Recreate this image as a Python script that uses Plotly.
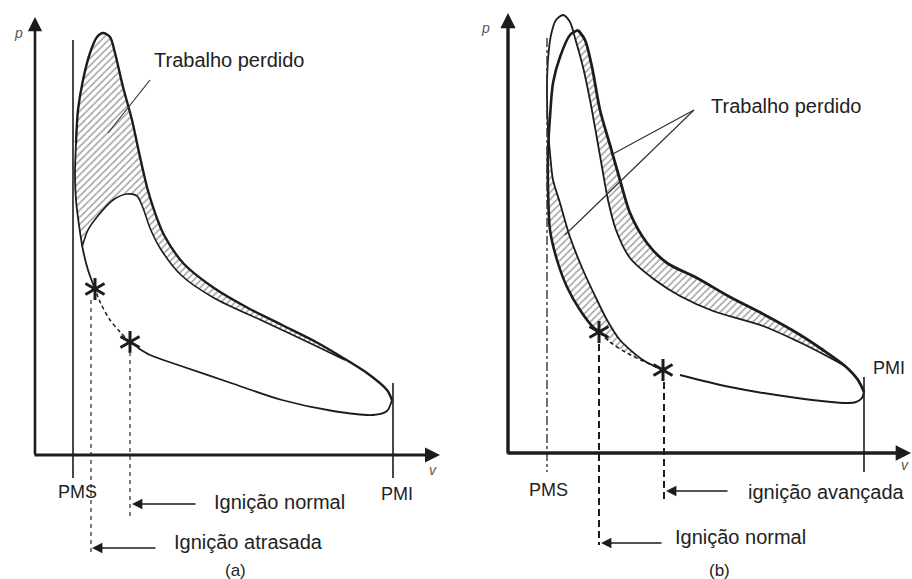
import math
import plotly.graph_objects as go

# ---------------- Panel (a): ignição atrasada (pixel-space drawing coordinates) -------------
a_comp_x = [392, 387, 373, 333, 282, 231, 181, 150, 138]
a_comp_y = [400, 411, 415, 411, 400, 383, 366, 355, 348]
a_between_x = [130, 120, 110, 101, 95]
a_between_y = [342, 332, 320, 304, 289]
a_rise_x = [95, 88, 83, 79, 76, 75, 76]
a_rise_y = [289, 270, 250, 225, 200, 175, 143]
a_peak_x = [76, 78, 83, 90, 97, 103, 110, 115, 123, 132, 140, 147, 153, 164, 184, 214, 248, 282, 316, 340, 367, 387, 392]
a_peak_y = [143, 110, 80, 53, 37, 33, 37, 53, 87, 120, 157, 187, 207, 235, 264, 288, 308, 325, 342, 356, 373, 390, 400]
a_hump_x = [82, 88, 97, 113, 127, 137, 143, 150, 160, 181, 214, 265, 316, 345]
a_hump_y = [247, 230, 217, 200, 194, 196, 208, 228, 248, 275, 298, 322, 346, 360]
a_stars_x = [95, 130]
a_stars_y = [289, 342]
a_ign_x = [91, 130]
a_ign_top = [300, 352]
a_ign_bottom = [552, 517]

# ---------------- Panel (b): ignição avançada -------------
b_comp_x = [864, 862, 856, 847, 797, 730, 680]
b_comp_y = [392, 398, 402, 403, 398, 387, 375]
b_between_x = [663, 643, 625, 610, 599]
b_between_y = [370, 361, 352, 342, 332]
b_rise_x = [599, 593, 580, 567, 557, 550, 548, 548, 550, 553, 560, 570, 578]
b_rise_y = [332, 327, 310, 287, 260, 230, 187, 150, 117, 83, 57, 35, 30]
b_fall_x = [578, 585, 592, 600, 610, 620, 630, 647, 667, 697, 730, 763, 797, 823, 845, 858, 864]
b_fall_y = [30, 40, 67, 110, 145, 180, 213, 243, 263, 278, 297, 314, 333, 350, 366, 380, 392]
b_adv_x = [663, 643, 620, 607, 597, 583, 570, 560, 553, 550, 548, 547, 548, 551, 556, 563, 570, 575, 583,
           590, 596, 602, 608, 616, 630, 655, 680, 713, 763, 797, 823, 845]
b_adv_y = [370, 360, 340, 320, 300, 270, 237, 203, 180, 153, 130, 90, 60, 35, 20, 15, 22, 38, 67,
           100, 133, 167, 200, 230, 258, 280, 296, 311, 326, 341, 354, 366]
b_stars_x = [599, 663]
b_stars_y = [332, 370]
b_ign_x = [599, 664]
b_ign_top = [344, 382]
b_ign_bottom = [545, 503]

INK = "#1c1c1c"
FONT = "Arial, Liberation Sans, sans-serif"

fig = go.Figure()


def line(xs, ys, width=2.0, dash="solid", color=INK, shape="spline"):
    fig.add_trace(go.Scatter(x=xs, y=ys, mode="lines",
                             line=dict(color=color, width=width, dash=dash, shape=shape, smoothing=0.8),
                             hoverinfo="skip"))


def hatch(xs, ys, shape="/"):
    fig.add_trace(go.Scatter(x=xs, y=ys, mode="lines", fill="toself",
                             line=dict(width=0, shape="spline", smoothing=0.8, color="rgba(0,0,0,0)"),
                             fillcolor="white",
                             fillpattern=dict(shape=shape, size=5, solidity=0.3, fgcolor="#444",
                                              bgcolor="white"),
                             hoverinfo="skip"))


def stars(xs, ys, r=11, width=3.0):
    sx, sy = [], []
    for cx, cy in zip(xs, ys):
        for ang in (90, 30, 150):
            dx = r * math.cos(math.radians(ang))
            dy = r * math.sin(math.radians(ang))
            sx += [cx - dx, cx + dx, None]
            sy += [cy + dy, cy - dy, None]
    fig.add_trace(go.Scatter(x=sx, y=sy, mode="lines", line=dict(color=INK, width=width),
                             hoverinfo="skip"))


# ---- hatched "trabalho perdido" regions ----
ha_x = a_peak_x[:20] + [a_hump_x[-1]] + a_hump_x[-2::-1] + a_rise_x[3:6]
ha_y = a_peak_y[:20] + [a_hump_y[-1]] + a_hump_y[-2::-1] + a_rise_y[3:6]
hatch(ha_x, ha_y)
hb1_x = b_adv_x[:10] + b_rise_x[7::-1] + b_between_x[::-1]
hb1_y = b_adv_y[:10] + b_rise_y[7::-1] + b_between_y[::-1]
hatch(hb1_x, hb1_y)
hb2_x = b_fall_x[:15] + b_adv_x[-2:16:-1]
hb2_y = b_fall_y[:15] + b_adv_y[-2:16:-1]
hatch(hb2_x, hb2_y)

# ---- panel (a) curves ----
line(a_peak_x, a_peak_y, 2.4)
line(a_hump_x, a_hump_y, 1.6)
line(a_comp_x, a_comp_y, 1.8)
line(a_between_x, a_between_y, 1.5, dash="4px,3px")
line(a_rise_x, a_rise_y, 1.8)
stars(a_stars_x, a_stars_y)

# ---- panel (b) curves ----
line(b_fall_x, b_fall_y, 2.8)
line(b_rise_x, b_rise_y, 2.6)
line(b_adv_x, b_adv_y, 1.8)
line(b_comp_x, b_comp_y, 2.0)
line(b_between_x, b_between_y, 1.6, dash="4px,3px")
stars(b_stars_x, b_stars_y)

# ---- reference lines ----
line([73, 73], [40, 478], 1.6, shape="linear")
line([393, 393], [383, 478], 1.6, shape="linear")
line([547, 547], [38, 472], 1.4, dash="dashdot", color="#333", shape="linear")
line([864, 864], [377, 472], 1.6, shape="linear")
for x, t, b in zip(a_ign_x, a_ign_top, a_ign_bottom):
    line([x, x], [t, b], 1.5, dash="4px,4px", color="#555", shape="linear")
for x, t, b in zip(b_ign_x, b_ign_top, b_ign_bottom):
    line([x, x], [t, b], 2.0, dash="7px,4px", color=INK, shape="linear")
line([150, 108], [80, 133], 1.2, color="#333", shape="linear")
line([694, 611], [110, 155], 1.2, color="#333", shape="linear")
line([694, 565], [110, 235], 1.2, color="#333", shape="linear")

annotations = []


def arrow(x0, y0, x1, y1, width=1.5, size=1.0, head=2):
    annotations.append(dict(x=x1, y=y1, ax=x0, ay=y0, xref="x", yref="y", axref="x", ayref="y",
                            text="", showarrow=True, arrowhead=head, arrowsize=size,
                            arrowwidth=width, arrowcolor=INK))


arrow(35, 456, 35, 17, width=2.6, size=1.1)
arrow(33, 455, 440, 455, width=3.0, size=1.0)
arrow(508, 455, 508, 13, width=3.4, size=0.9)
arrow(506, 453, 911, 453, width=3.4, size=0.9)
arrow(197, 504, 132, 504, width=1.6, size=1.3)
arrow(157, 548, 92, 548, width=1.6, size=1.3)
arrow(729, 491, 666, 491, width=1.6, size=1.3)
arrow(663, 543, 601, 543, width=1.6, size=1.3)


def text(s, x, y, size=20, xanchor="center", color="#222", italic=False):
    t = f"<i>{s}</i>" if italic else s
    annotations.append(dict(x=x, y=y, xref="x", yref="y", text=t, showarrow=False,
                            xanchor=xanchor, yanchor="middle",
                            font=dict(family=FONT, size=size, color=color)))


text("p", 18, 33, 14, color="#555", italic=True)
text("v", 433, 470, 14, color="#555", italic=True)
text("Trabalho perdido", 152, 60, 20, xanchor="left")
text("PMS", 77, 492, 18)
text("PMI", 397, 494, 18)
text("Ignição normal", 212, 502, 20, xanchor="left")
text("Ignição atrasada", 172, 542, 20, xanchor="left")
text("(a)", 235, 570, 17)

text("p", 485, 28, 14, color="#555", italic=True)
text("v", 905, 465, 14, color="#555", italic=True)
text("Trabalho perdido", 709, 106, 20, xanchor="left")
text("PMS", 548, 490, 18)
text("PMI", 889, 368, 18)
text("ignição avançada", 746, 492, 20, xanchor="left")
text("Ignição normal", 673, 537, 20, xanchor="left")
text("(b)", 719, 570, 17)

fig.update_layout(
    width=912, height=579, autosize=False,
    margin=dict(l=0, r=0, t=0, b=0, pad=0),
    paper_bgcolor="white", plot_bgcolor="white",
    showlegend=False,
    xaxis=dict(range=[0, 912], visible=False, fixedrange=True),
    yaxis=dict(range=[579, 0], visible=False, fixedrange=True),
    annotations=annotations,
)

fig.write_html("out.html", config={"displayModeBar": False},
               post_script="document.body.style.margin='0px';document.body.style.overflow='hidden';")
